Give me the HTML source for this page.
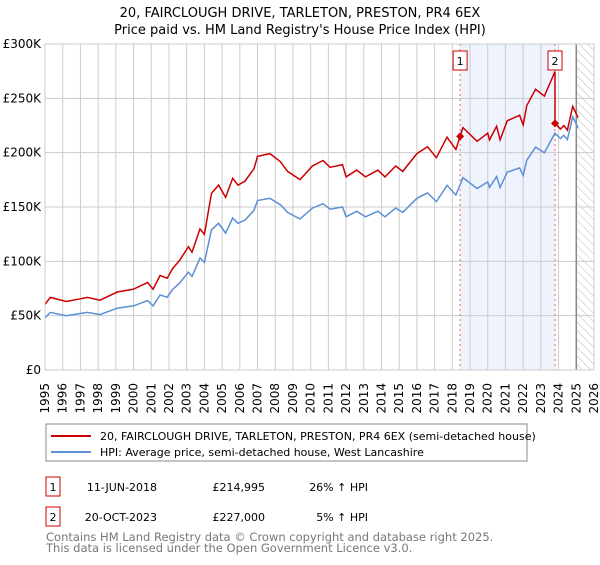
<!DOCTYPE html>
<html><head><meta charset="utf-8"><style>
body{margin:0;background:#fff;width:600px;height:560px;overflow:hidden;font-family:"Liberation Sans","DejaVu Sans",sans-serif}
svg text{font-family:"DejaVu Sans","Liberation Sans",sans-serif}
</style></head><body>
<svg id="chart" width="600" height="560" viewBox="0 0 600 560" xmlns="http://www.w3.org/2000/svg">
<defs><pattern id="hatch" patternUnits="userSpaceOnUse" width="6" height="6" patternTransform="rotate(-45)"><line x1="0" y1="0" x2="0" y2="6" stroke="#bbb" stroke-width="1"/></pattern></defs>
<text x="300" y="17" text-anchor="middle" font-size="13">20, FAIRCLOUGH DRIVE, TARLETON, PRESTON, PR4 6EX</text>
<text x="300" y="34" text-anchor="middle" font-size="13">Price paid vs. HM Land Registry's House Price Index (HPI)</text>
<g id="plot"></g>
<g>
<rect x="46" y="424" width="481" height="37" fill="#fff" stroke="#888" stroke-width="1"/>
<line x1="51" y1="436" x2="91" y2="436" stroke="#cc0000" stroke-width="2"/>
<text x="100" y="440" font-size="11">20, FAIRCLOUGH DRIVE, TARLETON, PRESTON, PR4 6EX (semi-detached house)</text>
<line x1="51" y1="452" x2="91" y2="452" stroke="#5b8fd6" stroke-width="2"/>
<text x="100" y="456" font-size="11">HPI: Average price, semi-detached house, West Lancashire</text>
</g>
<g font-size="11">
<rect x="46" y="477" width="14" height="19" fill="#fff" stroke="#cc0000"/><text x="53" y="491" text-anchor="middle">1</text>
<text x="157" y="491" text-anchor="end">11-JUN-2018</text><text x="265" y="491" text-anchor="end">£214,995</text><text x="368" y="491" text-anchor="end">26% ↑ HPI</text>
<rect x="46" y="507" width="14" height="19" fill="#fff" stroke="#cc0000"/><text x="53" y="521" text-anchor="middle">2</text>
<text x="157" y="521" text-anchor="end">20-OCT-2023</text><text x="265" y="521" text-anchor="end">£227,000</text><text x="368" y="521" text-anchor="end">5% ↑ HPI</text>
</g>
<text x="46" y="541" font-size="11.5" fill="#777">Contains HM Land Registry data © Crown copyright and database right 2025.</text>
<text x="46" y="552" font-size="11.5" fill="#777">This data is licensed under the Open Government Licence v3.0.</text>
</svg>
<script>
const hpiYears=[1995.0,1995.3,1996.2,1997.0,1997.4,1998.1,1999.1,2000.0,2000.8,2001.1,2001.5,2001.9,2002.2,2002.6,2003.1,2003.3,2003.75,2004.0,2004.4,2004.8,2005.2,2005.6,2005.9,2006.3,2006.8,2007.0,2007.7,2008.3,2008.7,2009.4,2010.1,2010.7,2011.1,2011.8,2012.0,2012.6,2013.1,2013.8,2014.2,2014.8,2015.2,2016.0,2016.6,2017.1,2017.7,2018.2,2018.6,2019.4,2020.0,2020.1,2020.5,2020.7,2021.1,2021.8,2022.0,2022.2,2022.7,2023.2,2023.8,2024.1,2024.3,2024.5,2024.8,2025.1];
const hpiValues=[48,53,50,52,53,51,57,59,64,59,69,67,74,80,90,86,103,99,129,135,126,140,135,138,147,156,158,152,145,139,149,153,148,150,141,146,141,146,141,149,145,158,163,155,170,161,177,167,173,168,178,168,182,186,179,193,205,200,218,213,216,212,233,223];
const saleYears=[2018.44,2023.8];
const salePrices=[214995,227000];
const saleLabels=['1','2'];
const yTicks=[0,50000,100000,150000,200000,250000,300000];
const yTickLabels=['£0','£50K','£100K','£150K','£200K','£250K','£300K'];
const xTicks=[1995,1996,1997,1998,1999,2000,2001,2002,2003,2004,2005,2006,2007,2008,2009,2010,2011,2012,2013,2014,2015,2016,2017,2018,2019,2020,2021,2022,2023,2024,2025,2026];
const forecastStart=2025.0;

const NS='http://www.w3.org/2000/svg';
const L=45,R=594,T=44,B=370;
const xs=t=>L+(t-1995)/(2026-1995)*(R-L);
const ys=v=>B-v/300000*(B-T);
const g=document.getElementById('plot');
function mk(tag,attrs,parent){const e=document.createElementNS(NS,tag);for(const k in attrs)e.setAttribute(k,attrs[k]);(parent||g).appendChild(e);return e;}
function hpiAt(t){for(let i=1;i<hpiYears.length;i++){if(t<=hpiYears[i]){const f=(t-hpiYears[i-1])/(hpiYears[i]-hpiYears[i-1]);return (hpiValues[i-1]+f*(hpiValues[i]-hpiValues[i-1]))*1000;}}return hpiValues[hpiValues.length-1]*1000;}

const shade=mk('rect',{x:xs(saleYears[0]),y:T,width:xs(saleYears[1])-xs(saleYears[0]),height:B-T,fill:'#eef3fd'});


const hat=mk('rect',{x:xs(forecastStart),y:T,width:R-xs(forecastStart),height:B-T,fill:'url(#hatch)'});



xTicks.forEach(t=>{const l=mk('line',{x1:xs(t),x2:xs(t),y1:T,y2:B,stroke:'#ccc','stroke-width':1});


const tx=mk('text',{x:0,y:0,'font-size':12,'text-anchor':'end',transform:`translate(${xs(t)+4},383) rotate(-90)`});


tx.textContent=t;});
yTicks.forEach((v,i)=>{const l=mk('line',{x1:L,x2:R,y1:ys(v),y2:ys(v),stroke:'#ccc','stroke-width':1});


const tx=mk('text',{x:L-4,y:ys(v)+4,'font-size':12,'text-anchor':'end'});


tx.textContent=yTickLabels[i];});
const fl=mk('line',{x1:xs(forecastStart),x2:xs(forecastStart),y1:T,y2:B,stroke:'#888','stroke-width':1.5});



saleYears.forEach((t,i)=>{const l=mk('line',{x1:xs(t),x2:xs(t),y1:T,y2:B,stroke:'#f06060','stroke-width':1,'stroke-dasharray':'2,3'});

});

// HPI line
let d='';hpiYears.forEach((t,i)=>{d+=(i?'L':'M')+xs(t).toFixed(1)+','+ys(hpiValues[i]*1000).toFixed(1);});
const hl=mk('path',{d:d,fill:'none',stroke:'#5b8fd6','stroke-width':1.5});



// Property line indexed from sale prices
const f1=salePrices[0]/hpiAt(saleYears[0]),f2=salePrices[1]/hpiAt(saleYears[1]);
const pts=[];
hpiYears.forEach((t,i)=>{if(t<saleYears[1])pts.push([t,hpiValues[i]*1000*f1]);});
pts.push([saleYears[0],salePrices[0]]);
pts.sort((a,b)=>a[0]-b[0]);
pts.push([saleYears[1],hpiAt(saleYears[1])*f1]);
pts.push([saleYears[1],salePrices[1]]);
hpiYears.forEach((t,i)=>{if(t>saleYears[1])pts.push([t,hpiValues[i]*1000*f2]);});
let d2='';pts.forEach((p,i)=>{d2+=(i?'L':'M')+xs(p[0]).toFixed(1)+','+ys(p[1]).toFixed(1);});
const pl=mk('path',{d:d2,fill:'none',stroke:'#cc0000','stroke-width':1.5});



saleYears.forEach((t,i)=>{const x=xs(t),y=ys(salePrices[i]);
const m=mk('path',{d:`M${x-4},${y}L${x},${y-4}L${x+4},${y}L${x},${y+4}Z`,fill:'#cc0000'});


const bx=mk('rect',{x:x-7,y:51,width:14,height:19,fill:'#fff',stroke:'#cc0000'});


const tx=mk('text',{x:x,y:65,'font-size':11,'text-anchor':'middle'});


tx.textContent=saleLabels[i];});
const ax=mk('rect',{x:L,y:T,width:R-L,height:B-T,fill:'none',stroke:'#ccc'});


</script>
</body></html>
